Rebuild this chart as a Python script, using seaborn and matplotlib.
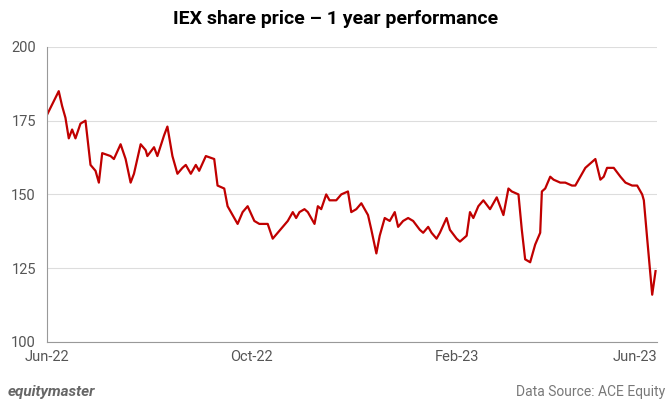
import pandas as pd, numpy as np
import matplotlib
matplotlib.use("Agg")
import matplotlib.pyplot as plt
import seaborn as sns

day_offsets = [0,7,9,11,13,15,17,20,23,26,29,31,33,38,40,44,47,50,52,56,59,60,64,66,70,72,75,78,81,83,86,89,91,95,100,102,106,108,112,114,117,120,124,127,132,135,138,141,144,147,149,151,154,156,160,162,164,167,169,173,176,180,182,185,188,192,194,197,199,202,205,208,210,213,216,219,223,225,228,230,233,235,239,241,245,247,251,253,255,258,261,265,269,271,273,276,278,282,284,286,289,292,295,296,298,301,303,307,310,314,316,320,322,326,328,331,333,335,339,343,346,350,353,356,357,359,362,364]
prices = [177,185,180,176,169,172,169,174,175,160,158,154,164,163,162,167,162,154,157,167,165,163,166,163,170,173,163,157,159,160,157,160,158,163,162,153,152,146,142,140,144,146,141,140,140,135,137,139,141,144,142,144,145,144,140,146,145,150,148,148,150,151,144,145,147,143,138,130,136,142,141,144,139,141,142,141,138,137,139,137,135,137,142,138,135,134,136,144,142,146,148,145,149,146,143,152,151,150,138,128,127,133,137,151,152,156,155,154,154,153,153,157,159,161,162,155,156,159,159,156,154,153,153,150,148,135,116,124]
tick_labels = ["Jun-22","Oct-22","Feb-23","Jun-23"]
tick_dates = ["2022-06-01","2022-10-01","2023-02-01","2023-06-01"]

start = pd.Timestamp("2022-06-01")
df = pd.DataFrame({"date": [start + pd.Timedelta(days=d) for d in day_offsets], "price": prices})

plt.rcParams["font.family"] = "Roboto"
fig = plt.figure(figsize=(6.72, 4.08), dpi=100)
ax = fig.add_axes([0.07, 0.162, 0.908, 0.723])
sns.lineplot(data=df, x="date", y="price", ax=ax, color="#C00000", linewidth=1.6)
ax.set_ylim(100, 200)
ax.set_yticks([100,125,150,175,200])
ax.set_xlim(pd.Timestamp(tick_dates[0]), pd.Timestamp(tick_dates[-1]))
ax.set_xticks([pd.Timestamp(t) for t in tick_dates])
ax.set_xticklabels(tick_labels)
ax.get_xticklabels()[-1].set_horizontalalignment("right")
ax.get_xticklabels()[-1].set_x(0)
ax.grid(axis="y", color="#dddddd", linewidth=0.8)
ax.grid(axis="x", visible=False)
for s in ["top","right"]:
    ax.spines[s].set_visible(False)
ax.spines["left"].set_color("#999999")
ax.spines["bottom"].set_color("#999999")
ax.tick_params(colors="#555555", labelsize=10.5, length=0)
ax.tick_params(axis="y", pad=8)
ax.tick_params(axis="x", pad=6)
ax.set_xlabel(""); ax.set_ylabel("")
fig.text(0.5, 0.94, "IEX share price – 1 year performance", ha="center", fontsize=14, fontweight="bold")
fig.text(0.012, 0.03, "equitymaster", fontsize=11, fontweight="bold", style="italic", color="#666666")
fig.text(0.99, 0.03, "Data Source: ACE Equity", fontsize=10, color="#777777", ha="right")
fig.savefig("out.png", dpi=100)
